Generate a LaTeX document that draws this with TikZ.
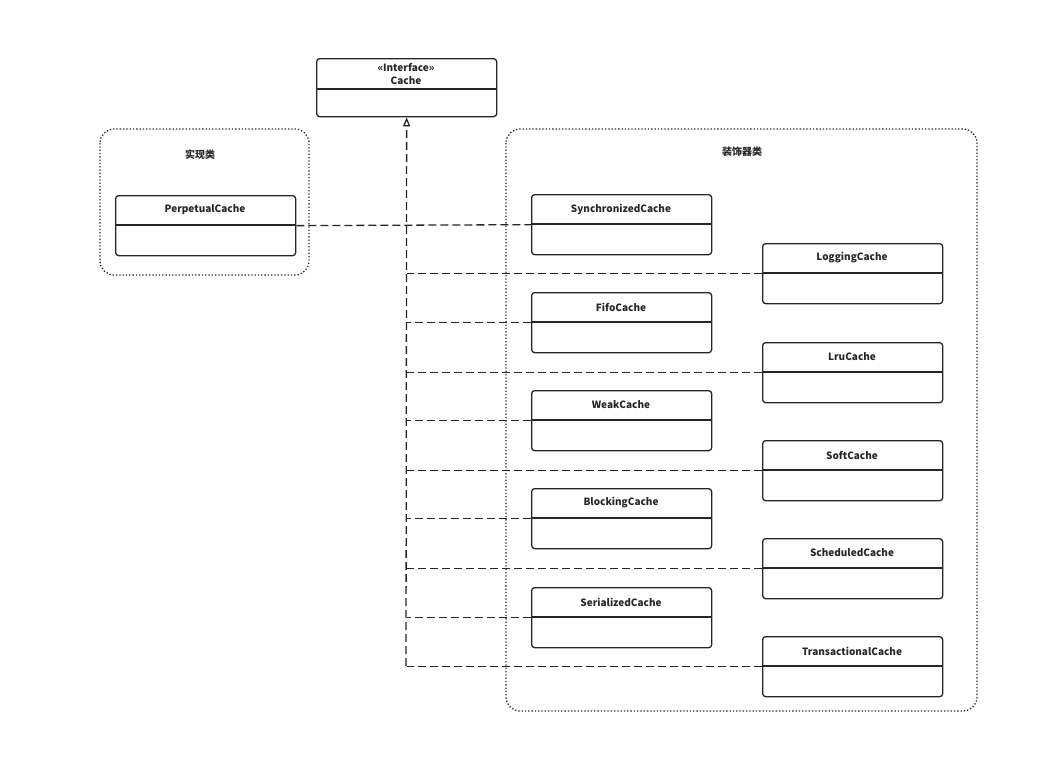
\documentclass[tikz,border=0pt]{standalone}
\usepackage{fontspec}
\setmainfont{Noto Sans CJK SC}
\usetikzlibrary{arrows.meta}
\begin{document}
\begin{tikzpicture}[x=1pt,y=-1pt,
  cls/.style={draw=black!85,line width=1.3pt,rounded corners=3pt,minimum width=180pt,minimum height=60pt,inner sep=0pt,anchor=north west},
  ttl/.style={font=\bfseries\fontsize{10}{12}\selectfont,text=black!85},
  dep/.style={draw=black!85,line width=1.3pt,dash pattern=on 8pt off 4pt},
  grp/.style={draw=black!85,line width=1.3pt,dotted,rounded corners=14pt}]
\useasboundingbox (0,0) rectangle (1040,774);
\draw[grp] (100,129) rectangle (309,275);
\draw[grp] (506,129) rectangle (977,711);
\node[ttl] (g1) at (200,155) {实现类};
\node[ttl] (g2) at (742,152) {装饰器类};
\newcommand{\cls}[4]{%
  \node[cls] (#1) at (#2,#3) {};
  \draw[draw=black!85,line width=1.3pt] (#2,#3+30) -- (#2+180,#3+30);
  \node[ttl] at (#2+90,#3+15) {#4};}
\node[cls,minimum height=58pt] (Cache) at (316,58) {};
\draw[draw=black!85,line width=1.3pt] (316,89) -- (496,89);
\node[ttl,align=center,font=\bfseries\fontsize{10}{13}\selectfont] at (406,74) {<<Interface>>\\Cache};
\cls{Perp}{115}{195}{PerpetualCache}
\cls{Sync}{531}{194}{SynchronizedCache}
\cls{Fifo}{531}{292}{FifoCache}
\cls{Weak}{531}{390}{WeakCache}
\cls{Block}{531}{488}{BlockingCache}
\cls{Ser}{531}{587}{SerializedCache}
\cls{Log}{762}{243}{LoggingCache}
\cls{Lru}{762}{342}{LruCache}
\cls{Soft}{762}{440}{SoftCache}
\cls{Sched}{762}{538}{ScheduledCache}
\cls{Trans}{762}{636}{TransactionalCache}
\coordinate (vb) at (406,666);
\draw[dep,-{Triangle[open,length=9pt,width=7pt]}] (vb) -- (Cache.south);
\draw[dep] (Perp.east) -- (Sync.west);
\foreach \n in {Log,Fifo,Lru,Weak,Soft,Block,Sched,Ser,Trans}
  \draw[dep] (\n.west) -- (\n.west -| Cache.south);
\end{tikzpicture}
\end{document}
